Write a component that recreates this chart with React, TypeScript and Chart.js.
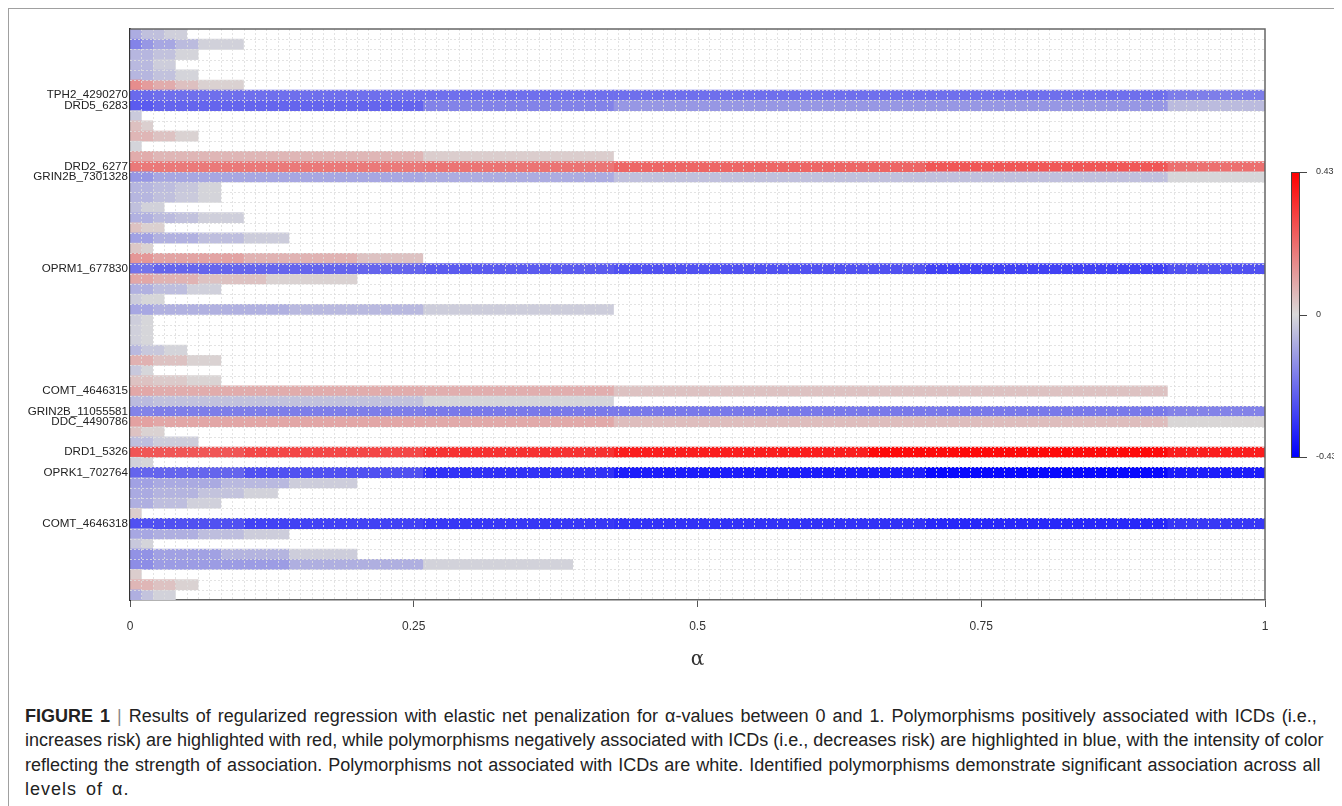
import React, { useEffect, useRef } from 'react';
import { Chart, registerables } from 'chart.js';

Chart.register(...registerables);

// Row labels (top to bottom); unlabeled rows are empty strings
const rowLabels: string[] = [
  '', '', '', '', '', '', 'TPH2_4290270', 'DRD5_6283', '', '',
  '', '', '', 'DRD2_6277', 'GRIN2B_7301328', '', '', '', '', '',
  '', '', '', 'OPRM1_677830', '', '', '', '', '', '',
  '', '', '', '', '', 'COMT_4646315', '', 'GRIN2B_11055581', 'DDC_4490786', '',
  '', 'DRD1_5326', '', 'OPRK1_702764', '', '', '', '', 'COMT_4646318', '',
  '', '', '', '', '', '',
];

// For each row: alpha at which each constant-coefficient block ends (blocks start at the previous end, first at 0)
const segmentEnds: number[][] = [
  [0.01, 0.03, 0.05],
  [0.01, 0.02, 0.04, 0.06, 0.1],
  [0.02, 0.04, 0.06],
  [0.02, 0.04],
  [0.02, 0.04, 0.06],
  [0.01, 0.02, 0.04, 0.06, 0.1],
  [0.02, 0.258, 0.426, 0.914, 1],
  [0.02, 0.258, 0.426, 0.914, 1],
  [0.01],
  [0.01, 0.02],
  [0.02, 0.04, 0.06],
  [0.01],
  [0.02, 0.258, 0.426],
  [0.258, 0.426, 0.7, 0.914, 1],
  [0.02, 0.258, 0.426, 0.914, 1],
  [0.02, 0.04, 0.06, 0.08],
  [0.02, 0.04, 0.06, 0.08],
  [0.01, 0.03],
  [0.02, 0.04, 0.06, 0.1],
  [0.01, 0.03],
  [0.02, 0.06, 0.1, 0.14],
  [0.01, 0.02],
  [0.02, 0.1, 0.2, 0.258],
  [0.02, 0.258, 0.426, 0.7, 0.914, 1],
  [0.02, 0.06, 0.12, 0.2],
  [0.02, 0.05, 0.08],
  [0.01, 0.03],
  [0.02, 0.14, 0.258, 0.426],
  [0.01, 0.02],
  [0.01, 0.02],
  [0.01, 0.02],
  [0.01, 0.03, 0.05],
  [0.02, 0.05, 0.08],
  [0.01, 0.02],
  [0.02, 0.05, 0.08],
  [0.02, 0.258, 0.426, 0.914],
  [0.02, 0.258, 0.426],
  [0.02, 0.258, 0.426, 0.914, 1],
  [0.02, 0.258, 0.426, 0.914, 1],
  [0.01, 0.03],
  [0.02, 0.06],
  [0.1, 0.258, 0.426, 0.65, 0.914, 1],
  [0.01, 0.02],
  [0.1, 0.258, 0.426, 0.7, 0.914, 1],
  [0.02, 0.08, 0.14, 0.2],
  [0.02, 0.06, 0.1, 0.13],
  [0.02, 0.05, 0.08],
  [0.01],
  [0.1, 0.258, 0.426, 0.7, 0.914, 1],
  [0.02, 0.06, 0.1, 0.14],
  [0.01, 0.02],
  [0.02, 0.08, 0.14, 0.2],
  [0.02, 0.14, 0.258, 0.39],
  [0.01],
  [0.02, 0.04, 0.06],
  [0.01, 0.02, 0.04],
];

// Coefficient value of each block (same shape as segmentEnds)
const segmentValues: number[][] = [
  [-0.09, -0.05, -0.02],
  [-0.17, -0.13, -0.1, -0.06, -0.015],
  [-0.07, -0.045, -0.01],
  [-0.063, -0.024],
  [-0.07, -0.045, -0.01],
  [0.15, 0.12, 0.09, 0.05, 0.015],
  [-0.22, -0.21, -0.21, -0.21, -0.18],
  [-0.25, -0.23, -0.17, -0.13, -0.06],
  [-0.03],
  [0.05, 0.02],
  [0.07, 0.045, 0.014],
  [-0.01],
  [0.09, 0.07, 0.024],
  [0.19, 0.2, 0.23, 0.26, 0.21],
  [-0.13, -0.1, -0.09, -0.05, -0.005],
  [-0.07, -0.055, -0.035, -0.01],
  [-0.07, -0.05, -0.03, -0.01],
  [-0.05, -0.015],
  [-0.08, -0.06, -0.045, -0.02],
  [0.045, 0.018],
  [-0.11, -0.08, -0.053, -0.025],
  [0.035, 0.014],
  [0.13, 0.105, 0.075, 0.045],
  [-0.2, -0.23, -0.25, -0.27, -0.3, -0.27],
  [0.1, 0.075, 0.045, 0.014],
  [-0.08, -0.053, -0.018],
  [-0.025, -0.005],
  [-0.1, -0.08, -0.063, -0.024],
  [-0.024, -0.006],
  [-0.018, -0.006],
  [-0.018, -0.006],
  [-0.063, -0.034, -0.01],
  [0.08, 0.045, 0.014],
  [-0.034, -0.006],
  [0.045, 0.03, 0.01],
  [0.1, 0.09, 0.085, 0.045],
  [-0.06, -0.045, -0.008],
  [-0.17, -0.18, -0.19, -0.19, -0.17],
  [0.11, 0.1, 0.095, 0.055, 0.005],
  [0.045, 0.014],
  [-0.053, -0.024],
  [0.26, 0.29, 0.33, 0.37, 0.41, 0.37],
  [-0.015, -0.005],
  [-0.23, -0.27, -0.33, -0.37, -0.41, -0.37],
  [-0.11, -0.093, -0.063, -0.024],
  [-0.093, -0.073, -0.044, -0.014],
  [-0.083, -0.053, -0.018],
  [0.024],
  [-0.27, -0.3, -0.32, -0.33, -0.35, -0.32],
  [-0.1, -0.083, -0.053, -0.024],
  [-0.034, -0.01],
  [-0.14, -0.11, -0.073, -0.024],
  [-0.15, -0.12, -0.083, -0.014],
  [0.024],
  [0.07, 0.045, 0.014],
  [-0.083, -0.044, -0.014],
];

const xTicks: number[] = [0, 0.25, 0.5, 0.75, 1];
const colorLimit = 0.43;
const colorBarLabels: string[] = ['0.43', '0', '-0.43'];

const FONT = '"Liberation Sans", Arial, Helvetica, sans-serif';

const BLUE = [0, 0, 255];
const MID = [217, 217, 217];
const RED = [255, 0, 0];

function colorFor(v: number): string {
  const t = Math.max(-1, Math.min(1, v / colorLimit));
  const end = t < 0 ? BLUE : RED;
  const a = Math.abs(t);
  const c = MID.map((m, i) => Math.round(m + (end[i] - m) * a));
  return `rgb(${c[0]},${c[1]},${c[2]})`;
}

const gridOverlay = {
  id: 'gridOverlay',
  afterDatasetsDraw(chart: any) {
    const { ctx, chartArea } = chart;
    const xs = chart.scales.x;
    const n = rowLabels.length;
    const h = (chartArea.bottom - chartArea.top) / n;
    ctx.save();
    ctx.strokeStyle = 'rgba(222,222,222,0.85)';
    ctx.lineWidth = 1;
    ctx.setLineDash([2, 2]);
    ctx.beginPath();
    for (let k = 1; k < 100; k++) {
      const px = Math.round(xs.getPixelForValue(k / 100)) + 0.5;
      ctx.moveTo(px, chartArea.top);
      ctx.lineTo(px, chartArea.bottom);
    }
    for (let i = 1; i < n; i++) {
      const py = Math.round(chartArea.top + i * h) + 0.5;
      ctx.moveTo(chartArea.left, py);
      ctx.lineTo(chartArea.right, py);
    }
    ctx.stroke();
    ctx.setLineDash([]);
    ctx.strokeStyle = '#666';
    ctx.lineWidth = 1.5;
    ctx.beginPath();
    ctx.moveTo(chartArea.left, chartArea.top);
    ctx.lineTo(chartArea.right, chartArea.top);
    ctx.lineTo(chartArea.right, chartArea.bottom);
    ctx.stroke();
    ctx.restore();
  },
};

const colorBar = {
  id: 'colorBar',
  afterDraw(chart: any) {
    const { ctx } = chart;
    const x0 = 1282;
    const w = 8;
    const top = 163;
    const bottom = 448;
    ctx.save();
    const g = ctx.createLinearGradient(0, top, 0, bottom);
    g.addColorStop(0, colorFor(colorLimit));
    g.addColorStop(0.5, colorFor(0));
    g.addColorStop(1, colorFor(-colorLimit));
    ctx.fillStyle = g;
    ctx.fillRect(x0, top, w, bottom - top);
    ctx.strokeStyle = '#444';
    ctx.lineWidth = 1;
    ctx.strokeRect(x0 + 0.5, top + 0.5, w, bottom - top);
    const ys = [top, (top + bottom) / 2, bottom];
    ctx.fillStyle = '#333';
    ctx.font = `9px ${FONT}`;
    ctx.textBaseline = 'middle';
    ctx.textAlign = 'left';
    ys.forEach((y, i) => {
      ctx.beginPath();
      ctx.moveTo(x0 + w, Math.round(y) + 0.5);
      ctx.lineTo(x0 + w + 8, Math.round(y) + 0.5);
      ctx.stroke();
      ctx.fillText(colorBarLabels[i], x0 + 25, y);
    });
    ctx.restore();
  },
};

function buildDatasets() {
  const maxSeg = Math.max(...segmentEnds.map((s) => s.length));
  const datasets: any[] = [];
  for (let k = 0; k < maxSeg; k++) {
    const data: any[] = [];
    const colors: string[] = [];
    segmentEnds.forEach((ends, r) => {
      if (k < ends.length) {
        const start = k === 0 ? 0 : ends[k - 1];
        data.push([start, ends[k]]);
        colors.push(colorFor(segmentValues[r][k]));
      } else {
        data.push(null);
        colors.push('rgba(0,0,0,0)');
      }
    });
    datasets.push({
      data,
      backgroundColor: colors,
      borderWidth: 0,
      barPercentage: 1,
      categoryPercentage: 1,
      grouped: false,
    });
  }
  return datasets;
}

export default function App() {
  const ref = useRef<HTMLCanvasElement | null>(null);
  useEffect(() => {
    document.documentElement.style.overflow = 'hidden';
    document.body.style.overflow = 'hidden';
    if (!ref.current) return;
    const chart = new Chart(ref.current, {
      type: 'bar',
      data: { labels: rowLabels, datasets: buildDatasets() },
      plugins: [gridOverlay, colorBar],
      options: {
        animation: false,
        responsive: false,
        maintainAspectRatio: false,
        indexAxis: 'y',
        layout: { padding: { left: 0, right: 77, top: 20, bottom: 0 } },
        plugins: { legend: { display: false }, tooltip: { enabled: false } },
        scales: {
          x: {
            type: 'linear',
            min: 0,
            max: 1,
            afterBuildTicks: (s: any) => {
              s.ticks = xTicks.map((v) => ({ value: v }));
            },
            ticks: {
              callback: (v: any) => String(Number(v)),
              font: { family: FONT, size: 12 },
              color: '#333',
              padding: 12,
              maxRotation: 0,
            },
            grid: { drawOnChartArea: false, drawTicks: true, tickLength: 7, color: '#555' },
            border: { display: true, color: '#666', width: 1.5 },
            title: {
              display: true,
              text: 'α',
              font: { family: '"DejaVu Serif", serif', size: 20 },
              color: '#333',
              padding: { top: 0, bottom: 17 },
            },
            afterFit: (s: any) => {
              s.height = 89;
            },
          },
          y: {
            type: 'category',
            offset: true,
            ticks: { autoSkip: false, font: { family: FONT, size: 11.6 }, color: '#222', padding: 2 },
            grid: { drawOnChartArea: false, drawTicks: false },
            border: { display: true, color: '#333', width: 2 },
            afterFit: (s: any) => {
              s.width = 121;
            },
          },
        },
      } as any,
    });
    return () => chart.destroy();
  }, []);

  return (
    <div
      style={{
        position: 'relative',
        width: 1333,
        height: 797,
        borderTop: '1px solid #a0a0a0',
        borderLeft: '1px solid #a0a0a0',
      }}
    >
      <canvas ref={ref} width={1333} height={680} style={{ display: 'block', width: 1333, height: 680 }} />
      <div
        style={{
          position: 'absolute',
          left: 16,
          top: 695,
          fontFamily: '"Liberation Sans", Arial, sans-serif',
          fontSize: 18,
          lineHeight: '24.4px',
          color: '#222',
          whiteSpace: 'nowrap',
        }}
      >
        <div style={{ wordSpacing: '2px' }}>
          <b>FIGURE 1</b> <span style={{ color: '#888' }}>|</span> Results of regularized regression with elastic net penalization for α-values between 0 and 1. Polymorphisms positively associated with ICDs (i.e.,
        </div>
        <div>
          increases risk) are highlighted with red, while polymorphisms negatively associated with ICDs (i.e., decreases risk) are highlighted in blue, with the intensity of color
        </div>
        <div style={{ wordSpacing: '1px' }}>
          reflecting the strength of association. Polymorphisms not associated with ICDs are white. Identified polymorphisms demonstrate significant association across all
        </div>
        <div style={{ letterSpacing: '1px', wordSpacing: '3px' }}>levels of α.</div>
      </div>
    </div>
  );
}
